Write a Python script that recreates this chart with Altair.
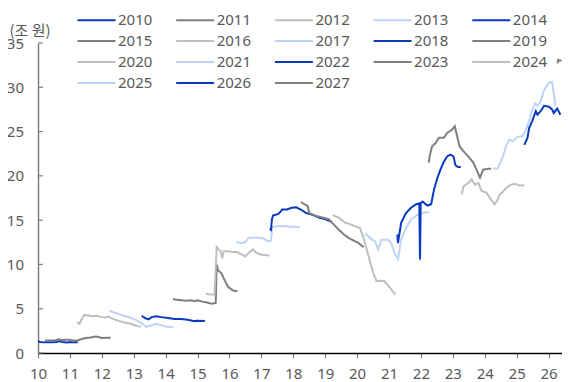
import altair as alt
import pandas as pd

years = [str(y) for y in range(2010, 2028)]
palette = ["#0a3bbf", "#7f7f7f", "#bfbfbf", "#bdd3f8"]
colors = [palette[i % 4] for i in range(len(years))]

x_ticks = list(range(10, 27))
y_ticks = [0, 5, 10, 15, 20, 25, 30, 35]

x2010 = [10.0, 10.05, 10.2, 10.4, 10.6, 10.65, 10.75, 10.9, 11.0, 11.1, 11.25]
y2010 = [1.4, 1.25, 1.2, 1.2, 1.25, 1.35, 1.25, 1.2, 1.25, 1.2, 1.2]

x2011 = [10.22, 10.4, 10.55, 10.65, 10.75, 10.85, 11.0, 11.1, 11.25, 11.4, 11.5, 11.65, 11.8, 11.9, 12.0, 12.15, 12.28]
y2011 = [1.4, 1.4, 1.45, 1.55, 1.45, 1.5, 1.5, 1.4, 1.45, 1.6, 1.7, 1.75, 1.85, 1.8, 1.7, 1.72, 1.72]

x2012 = [11.22, 11.3, 11.38, 11.45, 11.55, 11.7, 11.85, 12.0, 12.1, 12.2, 12.35, 12.5, 12.7, 12.9, 13.05, 13.23]
y2012 = [3.5, 3.3, 3.9, 4.3, 4.25, 4.15, 4.2, 4.05, 4.0, 4.1, 3.85, 3.65, 3.45, 3.3, 3.1, 2.95]

x2013 = [12.24, 12.4, 12.6, 12.8, 13.0, 13.2, 13.4, 13.55, 13.7, 13.85, 14.0, 14.25]
y2013 = [4.8, 4.55, 4.3, 4.1, 3.85, 3.45, 2.95, 3.1, 3.3, 3.15, 3.0, 2.9]

x2014 = [13.25, 13.35, 13.46, 13.56, 13.71, 13.87, 14.07, 14.28, 14.48, 14.69, 14.9, 15.0, 15.23]
y2014 = [4.2, 3.95, 3.8, 4.05, 4.15, 4.05, 3.95, 3.85, 3.85, 3.75, 3.6, 3.65, 3.6]

x2015 = [14.23, 14.35, 14.5, 14.65, 14.8, 14.9, 15.0, 15.15, 15.3, 15.45, 15.57, 15.6, 15.65, 15.75, 15.85, 15.95, 16.05, 16.15, 16.25]
y2015 = [6.1, 6.0, 5.95, 5.9, 5.95, 5.85, 5.95, 5.8, 5.7, 5.55, 5.65, 10.0, 9.3, 9.0, 8.2, 7.5, 7.2, 7.0, 7.0]

x2016 = [15.26, 15.4, 15.53, 15.6, 15.68, 15.72, 15.77, 15.82, 15.93, 16.1, 16.23, 16.39, 16.5, 16.6, 16.73, 16.85, 17.0, 17.26]
y2016 = [6.7, 6.6, 6.6, 11.95, 11.6, 11.5, 10.7, 11.5, 11.5, 11.4, 11.4, 11.1, 10.9, 11.3, 11.7, 11.3, 11.1, 11.0]

x2017 = [16.21, 16.34, 16.49, 16.6, 16.85, 17.06, 17.21, 17.3, 17.34, 17.47, 17.7, 17.9, 18.0, 18.21]
y2017 = [12.55, 12.4, 12.5, 13.0, 13.05, 12.95, 12.6, 12.7, 14.2, 14.3, 14.35, 14.25, 14.25, 14.2]

x2018 = [17.26, 17.3, 17.33, 17.37, 17.45, 17.55, 17.65, 17.8, 17.95, 18.09, 18.24, 18.4, 18.6, 18.8, 19.01, 19.2]
y2018 = [14.0, 13.9, 15.1, 15.55, 15.6, 15.75, 16.2, 16.2, 16.4, 16.45, 16.2, 15.8, 15.6, 15.3, 15.1, 14.8]

x2019 = [18.24, 18.3, 18.45, 18.5, 18.7, 18.91, 19.11, 19.27, 19.42, 19.58, 19.73, 19.94, 20.05, 20.2]
y2019 = [17.05, 16.9, 16.6, 15.8, 15.5, 15.3, 15.1, 14.5, 13.95, 13.4, 13.0, 12.6, 12.4, 11.95]

x2020 = [19.24, 19.42, 19.63, 19.78, 19.94, 20.09, 20.2, 20.3, 20.4, 20.5, 20.61, 20.71, 20.86, 21.02, 21.2]
y2020 = [15.55, 15.3, 14.7, 14.55, 14.3, 14.1, 13.0, 11.7, 10.4, 9.05, 8.1, 8.15, 8.1, 7.4, 6.6]

x2021 = [20.25, 20.4, 20.56, 20.66, 20.76, 20.97, 21.07, 21.17, 21.28, 21.38, 21.53, 21.69, 21.9, 21.96, 21.97, 21.99, 22.1, 22.25]
y2021 = [13.5, 13.0, 12.6, 11.7, 12.8, 12.8, 12.4, 11.3, 10.6, 12.8, 14.1, 15.07, 15.6, 15.8, 10.4, 15.8, 15.85, 15.9]

x2022 = [21.26, 21.28, 21.38, 21.53, 21.69, 21.84, 21.95, 21.97, 21.99, 22.05, 22.2, 22.32, 22.41, 22.51, 22.61, 22.72, 22.82, 22.92, 23.02, 23.08, 23.16, 23.25]
y2022 = [13.4, 12.4, 14.7, 15.8, 16.4, 16.77, 16.9, 10.6, 16.9, 17.1, 16.65, 16.8, 18.45, 19.7, 20.7, 21.6, 22.2, 22.4, 22.2, 21.2, 21.0, 21.0]

x2023 = [22.25, 22.27, 22.35, 22.46, 22.56, 22.72, 22.82, 22.97, 23.06, 23.11, 23.21, 23.33, 23.48, 23.64, 23.74, 23.85, 23.95, 24.1, 24.2]
y2023 = [21.5, 22.2, 23.35, 23.7, 24.3, 24.3, 24.85, 25.2, 25.6, 24.85, 23.35, 22.8, 22.2, 21.5, 20.7, 19.8, 20.7, 20.8, 20.8]

x2024 = [23.28, 23.33, 23.48, 23.59, 23.69, 23.8, 23.9, 24.05, 24.2, 24.31, 24.4, 24.47, 24.57, 24.67, 24.82, 24.95, 25.08, 25.24]
y2024 = [17.9, 18.8, 19.2, 19.6, 19.0, 19.2, 18.3, 18.1, 17.3, 16.8, 17.3, 17.9, 18.2, 18.65, 19.0, 19.1, 18.9, 18.95]

x2025 = [24.26, 24.41, 24.57, 24.67, 24.77, 24.88, 25.03, 25.19, 25.29, 25.39, 25.49, 25.58, 25.65, 25.75, 25.86, 26.01, 26.11, 26.16, 26.21]
y2025 = [20.8, 20.85, 22.2, 23.35, 24.1, 23.9, 24.4, 24.5, 25.2, 26.2, 27.5, 28.2, 27.9, 28.4, 29.7, 30.5, 30.6, 29.4, 27.9]

x2026 = [25.24, 25.34, 25.39, 25.49, 25.6, 25.65, 25.75, 25.86, 26.01, 26.11, 26.16, 26.27, 26.37]
y2026 = [23.5, 24.3, 25.4, 26.2, 27.3, 26.9, 27.3, 27.9, 27.8, 27.5, 27.1, 27.6, 26.9]

x2027 = [26.28, 26.3, 26.36, 26.4]
y2027 = [32.7, 33.1, 33.0, 33.1]

series = {
    "2010": (x2010, y2010), "2011": (x2011, y2011), "2012": (x2012, y2012),
    "2013": (x2013, y2013), "2014": (x2014, y2014), "2015": (x2015, y2015),
    "2016": (x2016, y2016), "2017": (x2017, y2017), "2018": (x2018, y2018),
    "2019": (x2019, y2019), "2020": (x2020, y2020), "2021": (x2021, y2021),
    "2022": (x2022, y2022), "2023": (x2023, y2023), "2024": (x2024, y2024),
    "2025": (x2025, y2025), "2026": (x2026, y2026), "2027": (x2027, y2027),
}

rows = []
for yr, (xs, ys) in series.items():
    for i, (a, b) in enumerate(zip(xs, ys)):
        rows.append({"year": yr, "t": a, "v": b, "i": i})
df = pd.DataFrame(rows)

FONT = "Noto Sans"
TXT = "#595959"

xscale = alt.Scale(domain=[10, 26.42], nice=False, zero=False)
yscale = alt.Scale(domain=[0, 35], nice=False)

y_axis = alt.Axis(values=y_ticks, title="(조 원)", grid=False,
                  ticks=False, tickSize=0, labelPadding=14.5,
                  labelFont=FONT, labelFontSize=15, labelColor=TXT,
                  domainColor="#808080", domainWidth=1.5,
                  titleAngle=0, titleX=-29, titleY=-12.5,
                  titleAlign="left", titleBaseline="middle",
                  titleFont="Noto Sans CJK KR", titleFontSize=15,
                  titleFontWeight="normal", titleColor=TXT)

lines = alt.Chart(df).mark_line(strokeWidth=2, clip=True).encode(
    x=alt.X("t:Q", scale=xscale,
            axis=alt.Axis(values=x_ticks, format="d", title=None, grid=False,
                          labelFont=FONT, labelFontSize=15, labelColor=TXT,
                          tickColor="#808080", tickSize=5, tickWidth=1.2,
                          labelPadding=8.5, domainColor="#000000", domainWidth=1.5,
                          labelFlush=False)),
    y=alt.Y("v:Q", scale=yscale, axis=y_axis),
    color=alt.Color("year:N", scale=alt.Scale(domain=years, range=colors),
                    legend=alt.Legend(title=None, orient="none", legendX=39.5, legendY=-33.5,
                                      direction="horizontal", columns=5,
                                      symbolType="M-2,0H2", symbolSize=361,
                                      symbolOffset=8.5,
                                      symbolStrokeWidth=2, labelFont=FONT,
                                      labelFontSize=15, labelColor=TXT,
                                      labelOffset=11, columnPadding=19.7, rowPadding=2,
                                      padding=0)),
    order=alt.Order("i:Q"),
)

tick_df = pd.DataFrame({"v": y_ticks})
yticks = alt.Chart(tick_df).mark_rule(color="#808080", strokeWidth=1.2).encode(
    y=alt.Y("v:Q", scale=yscale, axis=y_axis),
    x=alt.value(0),
    x2=alt.value(5),
)

chart = alt.layer(lines, yticks).properties(
    width=524, height=310,
    autosize=alt.AutoSizeParams(type="none"),
    padding={"left": 30, "top": 35, "right": 0, "bottom": 29},
).configure_view(stroke=None)

chart.save("out.html", embed_options={"renderer": "svg", "actions": False})
